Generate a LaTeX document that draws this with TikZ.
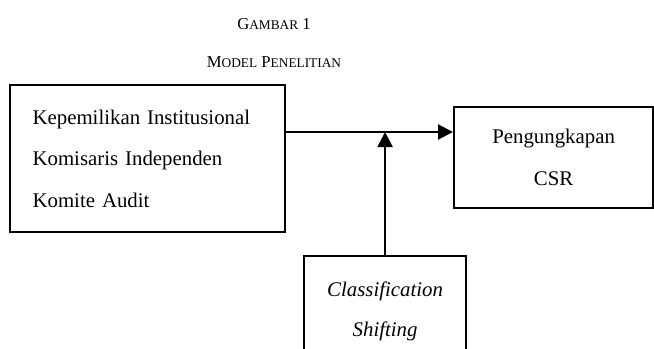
\documentclass[tikz,border=0pt]{standalone}
\usepackage{fontspec}
\setmainfont{Liberation Serif}
\usetikzlibrary{arrows.meta, positioning}

\begin{document}
\begin{tikzpicture}[
    x=0.6pt, y=-0.6pt,
    varbox/.style={rectangle, draw=black, line width=1.3pt, inner sep=0pt},
    title/.style={font=\fontsize{10}{12}\selectfont},
    arrow/.style={line width=1.3pt, -{Triangle[length=9pt,width=9pt]}}
]
    \useasboundingbox (0,0) rectangle (654,349);
    \clip (0,0) rectangle (654,349);

    \node[title] (fig) at (274,24) {G{\fontsize{8}{10}\selectfont AMBAR} 1};
    \node[title] (name) at (274,62) {M{\fontsize{8}{10}\selectfont ODEL} P{\fontsize{8}{10}\selectfont ENELITIAN}};

    \node[varbox, anchor=north west, minimum width=165pt, minimum height=88.2pt, text width=138pt, align=left, font=\fontsize{12.5}{25}\selectfont] (indep) at (9,84) {Kepemilikan Institusional\\Komisaris Independen\\Komite Audit};
    \node[varbox, anchor=north west, minimum width=119.4pt, minimum height=60.6pt, align=center, font=\fontsize{12.5}{25}\selectfont] (csr) at (453,106) {Pengungkapan\\CSR};
    \node[varbox, anchor=north west, minimum width=97.2pt, minimum height=66pt, align=center, font=\fontsize{12.5}{24}\selectfont\itshape] (shift) at (303,255) {Classification\\Shifting};

    \coordinate (join) at (shift.north |- 0,132);

    \draw[arrow] (indep.east |- join) -- (csr.west |- join);
    \draw[arrow] (shift.north) -- (join);

\end{tikzpicture}
\end{document}
